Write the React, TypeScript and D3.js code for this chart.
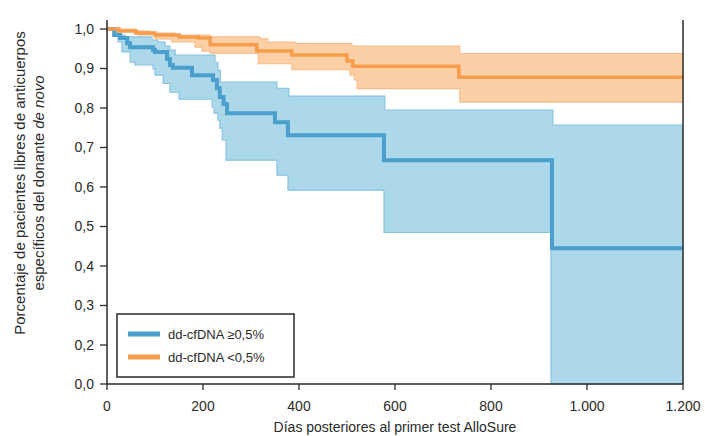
import React from 'react';
import * as d3 from 'd3';

// ---- Data (Kaplan-Meier step curves: [day, survival]) ----
const xTickValues = [0, 200, 400, 600, 800, 1000, 1200];
const xTickLabels = ['0', '200', '400', '600', '800', '1.000', '1.200'];
const yTickValues = [1.0, 0.9, 0.8, 0.7, 0.6, 0.5, 0.4, 0.3, 0.2, 0.0];
const yTickLabels = ['1,0', '0,9', '0,8', '0,7', '0,6', '0,5', '0,4', '0,3', '0,2', '0,0'];

const seriesNames = ['dd-cfDNA ≥0,5%', 'dd-cfDNA <0,5%'];

// dd-cfDNA >= 0.5%
const highMedian: [number, number][] = [
  [0, 1.0], [15, 0.985], [27, 0.977], [42, 0.964], [48, 0.954], [96, 0.947], [100, 0.942],
  [125, 0.924], [131, 0.909], [137, 0.902], [177, 0.883], [221, 0.871], [229, 0.85],
  [235, 0.828], [243, 0.81], [250, 0.787], [350, 0.764], [377, 0.731], [577, 0.668], [927, 0.445],
];
const highUpper: [number, number][] = [
  [0, 1.0], [17, 0.997], [23, 0.985], [37, 0.98], [94, 0.972], [106, 0.967], [121, 0.957],
  [131, 0.947], [142, 0.934], [225, 0.916], [231, 0.896], [236, 0.866], [354, 0.85],
  [379, 0.83], [579, 0.795], [929, 0.757],
];
const highLower: [number, number][] = [
  [0, 1.0], [17, 0.99], [23, 0.967], [31, 0.942], [48, 0.916], [58, 0.909], [96, 0.899],
  [100, 0.883], [117, 0.862], [131, 0.84], [150, 0.822], [219, 0.802], [223, 0.787],
  [231, 0.769], [235, 0.749], [240, 0.719], [248, 0.668], [354, 0.63], [377, 0.592],
  [577, 0.485], [925, 0.0],
];

// dd-cfDNA < 0.5%
const lowMedian: [number, number][] = [
  [0, 1.0], [25, 0.995], [60, 0.99], [100, 0.985], [150, 0.98], [190, 0.977], [215, 0.96],
  [312, 0.944], [385, 0.934], [500, 0.919], [512, 0.906], [733, 0.878],
];
const lowUpper: [number, number][] = [
  [0, 1.0], [58, 0.995], [90, 0.99], [142, 0.985], [215, 0.98], [319, 0.975], [335, 0.967],
  [392, 0.963], [510, 0.957], [735, 0.938],
];
const lowLower: [number, number][] = [
  [0, 1.0], [17, 0.997], [65, 0.985], [100, 0.975], [135, 0.967], [183, 0.954], [198, 0.944],
  [215, 0.939], [315, 0.912], [385, 0.897], [506, 0.883], [515, 0.871], [521, 0.849],
  [735, 0.815],
];

const X_MAX = 1200;

// ---- Layout ----
const W = 705;
const H = 436;
const plotLeft = 107;
const plotRight = 683;
const plotTop = 20;
const plotBottom = 384;

const BLUE_FILL = '#acd8ea';
const BLUE_EDGE = '#85c2e2';
const BLUE_LINE = '#4a9fcd';
const ORANGE_FILL = '#fcd0a7';
const ORANGE_EDGE = '#f9bc88';
const ORANGE_LINE = '#f69c4c';
const INK = '#2a2a2a';
const FONT = "'Liberation Sans', Arial, Helvetica, sans-serif";

function stepAt(series: [number, number][], t: number): number {
  let v = series[0][1];
  for (const [ti, vi] of series) {
    if (ti <= t) v = vi;
    else break;
  }
  return v;
}

function extend(series: [number, number][]): [number, number][] {
  return [...series, [X_MAX, series[series.length - 1][1]]];
}

export default function App() {
  const x = d3.scaleLinear().domain([0, X_MAX]).range([plotLeft, plotRight]);
  const y = d3.scaleLinear().domain([0, 0.2, 1.0]).range([plotBottom, 345, 29]);

  const line = d3
    .line<[number, number]>()
    .x((d) => x(d[0]))
    .y((d) => y(d[1]))
    .curve(d3.curveStepAfter);

  const bandPath = (upper: [number, number][], lower: [number, number][]) => {
    const times = Array.from(new Set([...upper.map((d) => d[0]), ...lower.map((d) => d[0]), X_MAX])).sort(
      (a, b) => a - b
    );
    const area = d3
      .area<number>()
      .x((t) => x(t))
      .y0((t) => y(stepAt(lower, t)))
      .y1((t) => y(stepAt(upper, t)))
      .curve(d3.curveStepAfter);
    return area(times) || '';
  };

  const groups = [
    { upper: highUpper, lower: highLower, fill: BLUE_FILL, edge: BLUE_EDGE },
    { upper: lowUpper, lower: lowLower, fill: ORANGE_FILL, edge: ORANGE_EDGE },
  ];

  return (
    <svg
      width={W}
      height={H}
      viewBox={`0 0 ${W} ${H}`}
      style={{ position: 'absolute', left: 0, top: 0, background: '#fff' }}
      fontFamily={FONT}
    >
      {/* confidence bands */}
      {groups.map((g, i) => (
        <g key={'band' + i}>
          <path d={bandPath(g.upper, g.lower)} fill={g.fill} stroke="none" />
          <path d={line(extend(g.upper)) || ''} fill="none" stroke={g.edge} strokeWidth={1.1} />
          <path d={line(extend(g.lower)) || ''} fill="none" stroke={g.edge} strokeWidth={1.1} />
        </g>
      ))}
      {/* median curves */}
      <path d={line(extend(highMedian)) || ''} fill="none" stroke={BLUE_LINE} strokeWidth={4} />
      <path d={line(extend(lowMedian)) || ''} fill="none" stroke={ORANGE_LINE} strokeWidth={3.5} />

      {/* axes */}
      <line x1={plotLeft} x2={plotLeft} y1={plotTop} y2={plotBottom} stroke={INK} strokeWidth={1.5} />
      <line x1={plotRight} x2={plotRight} y1={plotTop} y2={plotBottom} stroke={INK} strokeWidth={1.5} />
      <line x1={plotLeft} x2={plotRight} y1={plotBottom} y2={plotBottom} stroke={INK} strokeWidth={1.5} />

      {xTickValues.map((v, i) => (
        <g key={'xt' + i}>
          <line x1={x(v)} x2={x(v)} y1={plotBottom} y2={plotBottom + 6} stroke={INK} strokeWidth={1.3} />
          <text x={x(v)} y={plotBottom + 27} textAnchor="middle" fontSize={14} fill={INK}>
            {xTickLabels[i]}
          </text>
        </g>
      ))}
      {yTickValues.map((v, i) => (
        <g key={'yt' + i}>
          <line x1={plotLeft - 7} x2={plotLeft} y1={y(v)} y2={y(v)} stroke={INK} strokeWidth={1.3} />
          <text x={plotLeft - 13} y={y(v)} dy="0.35em" textAnchor="end" fontSize={14} fill={INK}>
            {yTickLabels[i]}
          </text>
        </g>
      ))}

      {/* axis titles */}
      <text x={395} y={432} textAnchor="middle" fontSize={14} fill={INK}>
        Días posteriores al primer test AlloSure
      </text>
      <g transform={`translate(25,183) rotate(-90)`}>
        <text x={0} y={0} textAnchor="middle" fontSize={15} fill={INK}>
          Porcentaje de pacientes libres de anticuerpos
        </text>
        <text x={0} y={19} textAnchor="middle" fontSize={15} fill={INK}>
          específicos del donante <tspan fontStyle="italic">de novo</tspan>
        </text>
      </g>

      {/* legend */}
      <g>
        <rect x={117} y={314} width={177} height={63} fill="#fff" stroke={INK} strokeWidth={1.5} />
        {seriesNames.map((name, i) => (
          <g key={'lg' + i}>
            <line
              x1={128}
              x2={160}
              y1={334 + i * 23}
              y2={334 + i * 23}
              stroke={i === 0 ? BLUE_LINE : ORANGE_LINE}
              strokeWidth={5}
            />
            <text x={168} y={334 + i * 23} dy="0.35em" fontSize={13} fill={INK}>
              {name}
            </text>
          </g>
        ))}
      </g>
    </svg>
  );
}
